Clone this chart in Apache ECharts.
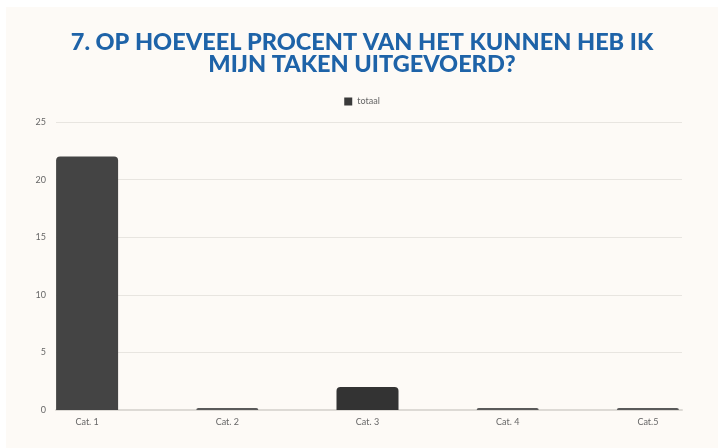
<!DOCTYPE html>
<html>
<head>
<meta charset="utf-8">
<script src="https://cdn.jsdelivr.net/npm/echarts@6/dist/echarts.min.js"></script>
<style>
  html, body { margin: 0; padding: 0; background: #ffffff; }
  #main { position: absolute; left: 6px; top: 7px; width: 712px; height: 441px; background: #fdfaf6; }
</style>
</head>
<body>
<div id="main"></div>
<script>
var categories = ['Cat. 1', 'Cat. 2', 'Cat. 3', 'Cat. 4', 'Cat.5'];
var totaal = [22, 0, 2, 0, 0];
var yTicks = [0, 5, 10, 15, 20, 25];

var chart = echarts.init(document.getElementById('main'));

var option = {
    backgroundColor: '#fdfaf6',
    title: {
        text: '7. OP HOEVEEL PROCENT VAN HET KUNNEN HEB IK\nMIJN TAKEN UITGEVOERD?',
        left: 'center',
        top: 19,
        textStyle: {
            fontFamily: 'Lato',
            fontWeight: 900,
            fontSize: 23.5,
            lineHeight: 22,
            color: '#1e63a8'
        }
    },
    legend: {
        data: ['totaal'],
        top: 85,
        left: 'center',
        icon: 'rect',
        itemWidth: 8,
        itemHeight: 8,
        itemGap: 6,
        itemStyle: { color: '#3a3a3a' },
        textStyle: { fontFamily: 'Lato', fontSize: 9, color: '#666' }
    },
    grid: [
        // bars
        { left: 11, right: 0, top: 115, bottom: 38 },
        // value scale and gridlines
        { left: 50, right: 36, top: 115, bottom: 38 }
    ],
    xAxis: [
        {
            type: 'category',
            gridIndex: 0,
            data: categories,
            axisLine: { show: false },
            axisTick: { show: false },
            axisLabel: { fontFamily: 'Lato', fontSize: 9, color: '#666', margin: 8 }
        },
        {
            type: 'value',
            gridIndex: 1,
            min: 0,
            max: 1,
            axisLine: { show: true, lineStyle: { color: '#dddad5', width: 2 } },
            axisTick: { show: false },
            axisLabel: { show: false },
            splitLine: { show: false }
        }
    ],
    yAxis: [
        {
            type: 'value',
            gridIndex: 0,
            min: 0,
            max: 25,
            show: false
        },
        {
            type: 'value',
            gridIndex: 1,
            min: yTicks[0],
            max: yTicks[yTicks.length - 1],
            interval: 5,
            axisLine: { show: false },
            axisTick: { show: false },
            axisLabel: { fontFamily: 'Lato', fontSize: 9, color: '#666', margin: 10 },
            splitLine: { lineStyle: { color: '#e8e5e0', width: 1 } }
        }
    ],
    series: [
        {
            name: 'totaal',
            type: 'bar',
            xAxisIndex: 0,
            yAxisIndex: 0,
            data: totaal,
            barWidth: 62,
            barMinHeight: 2,
            z: 3,
            itemStyle: {
                color: function (p) { return p.value === 0 ? '#5a5a5a' : (p.dataIndex === 0 ? '#444444' : '#333333'); },
                borderRadius: [4, 4, 0, 0]
            }
        }
    ]
};

chart.setOption(option);
</script>
</body>
</html>
